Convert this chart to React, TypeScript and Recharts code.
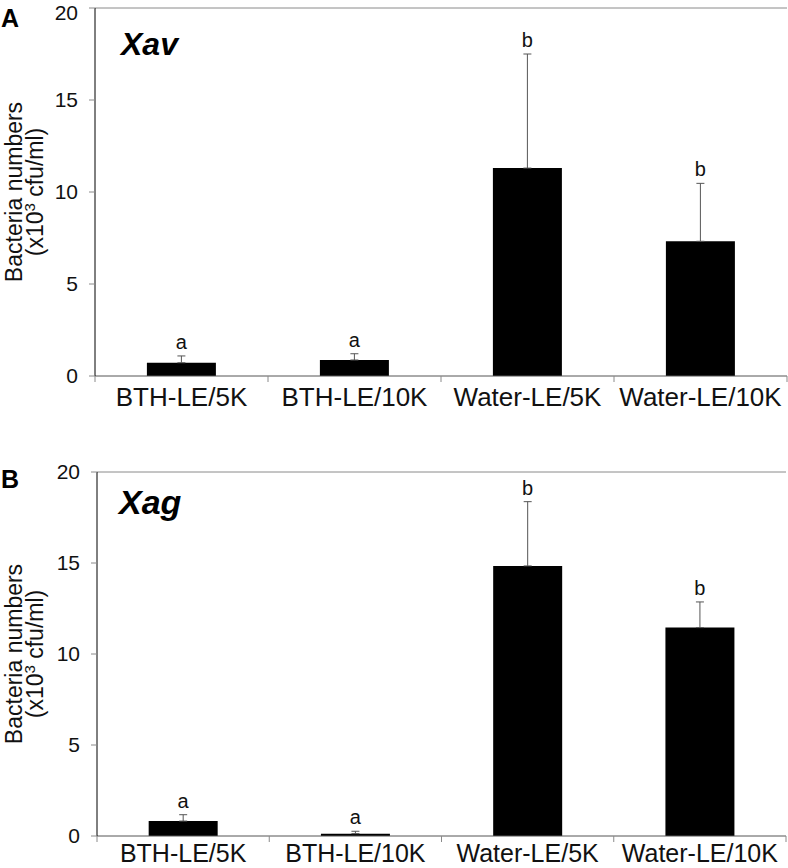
import { Bar, BarChart, ErrorBar, LabelList, ReferenceLine, XAxis, YAxis } from "recharts";

const categories = ["BTH-LE/5K", "BTH-LE/10K", "Water-LE/5K", "Water-LE/10K"];

// panel A, Xav
const xavMeans = [0.72, 0.87, 11.3, 7.32];
const xavErrors = [0.37, 0.34, 6.2, 3.15];
const xavLetters = ["a", "a", "b", "b"];

// panel B, Xag
const xagMeans = [0.82, 0.13, 14.84, 11.45];
const xagErrors = [0.35, 0.13, 3.53, 1.41];
const xagLetters = ["a", "a", "b", "b"];

const yTicks = [0, 5, 10, 15, 20];

const FONT = '"Liberation Sans", Arial, Helvetica, sans-serif';

function buildRows(means: number[], errors: number[], letters: string[]) {
  return categories.map((name, i) => ({
    name,
    mean: means[i],
    err: errors[i],
    errRange: [0, errors[i]],
    letter: letters[i]
  }));
}

function YLabel({ viewBox }: any) {
  const cy = viewBox.y + viewBox.height / 2;
  return (
    <g fontSize={23} fill="#111">
      <text x={22} y={cy} transform={`rotate(-90 22 ${cy})`} textAnchor="middle">
        Bacteria numbers
      </text>
      <text x={43} y={cy} transform={`rotate(-90 43 ${cy})`} textAnchor="middle">
        (x10<tspan dy={-8} fontSize={15}>3</tspan>
        <tspan dy={8}> cfu/ml)</tspan>
      </text>
    </g>
  );
}

// category label plus the small tick marks at the category boundaries
function makeCategoryTick(fontSize: number, gap: number) {
  return function CategoryTick({ x, y, payload, index }: any) {
    const half = payload.offset ?? 0;
    const last = index === categories.length - 1;
    return (
      <g>
        <line x1={x - half} x2={x - half} y1={y} y2={y + 6} stroke="#8a8a8a" />
        {last && <line x1={x + half} x2={x + half} y1={y} y2={y + 6} stroke="#8a8a8a" />}
        <text x={x} y={y + gap} dy="0.72em" textAnchor="middle" fontSize={fontSize} fill="#111">
          {payload.value}
        </text>
      </g>
    );
  };
}

const TickA = makeCategoryTick(26, 11);
const TickB = makeCategoryTick(25, 8);

function Panel({
  rows,
  height,
  margin,
  axisWidth,
  Tick
}: {
  rows: ReturnType<typeof buildRows>;
  height: number;
  margin: { top: number; right: number; bottom: number; left: number };
  axisWidth: number;
  Tick: (p: any) => any;
}) {
  return (
    <BarChart width={788} height={height} data={rows} margin={margin} barCategoryGap="30%">
      <XAxis
        dataKey="name"
        height={30}
        interval={0}
        tickLine={false}
        tickSize={0}
        tickMargin={0}
        axisLine={{ stroke: "#555" }}
        tick={<Tick />}
      />
      <YAxis
        domain={[0, 20]}
        ticks={yTicks}
        width={axisWidth}
        tickSize={6}
        tickMargin={11}
        axisLine={{ stroke: "#000" }}
        tickLine={{ stroke: "#8a8a8a" }}
        tick={{ fontSize: 21, fill: "#111" }}
        label={(props: any) => <YLabel {...props} />}
      />
      <YAxis
        yAxisId="frame"
        orientation="right"
        domain={[0, 20]}
        width={0}
        tick={false}
        tickLine={false}
        axisLine={{ stroke: "#8a8a8a" }}
      />
      <ReferenceLine y={20} stroke="#8a8a8a" ifOverflow="visible" />
      <Bar dataKey="mean" stackId="s" fill="#000" isAnimationActive={false}>
        <ErrorBar dataKey="errRange" width={4} stroke="#555" strokeWidth={1} isAnimationActive={false} />
      </Bar>
      <Bar dataKey="err" stackId="s" fill="transparent" isAnimationActive={false}>
        <LabelList dataKey="letter" position="top" offset={7} fontSize={20} fill="#111" />
      </Bar>
    </BarChart>
  );
}

export default function App() {
  const xav = buildRows(xavMeans, xavErrors, xavLetters);
  const xag = buildRows(xagMeans, xagErrors, xagLetters);
  return (
    <div
      style={{
        position: "absolute",
        left: 0,
        top: 0,
        width: 788,
        height: 868,
        background: "#fff",
        fontFamily: FONT,
        overflow: "hidden"
      }}
    >
      <div style={{ position: "absolute", left: 0, top: 0 }}>
        <Panel rows={xav} height={420} margin={{ top: 8, right: 1, bottom: 14, left: 0 }} axisWidth={95} Tick={TickA} />
      </div>
      <div style={{ position: "absolute", left: 0, top: 420 }}>
        <Panel rows={xag} height={448} margin={{ top: 52, right: 2, bottom: 2, left: 0 }} axisWidth={97} Tick={TickB} />
      </div>
      <svg
        width={788}
        height={868}
        style={{ position: "absolute", left: 0, top: 0, pointerEvents: "none" }}
      >
        <text x={1} y={27} fontSize={25} fontWeight="bold" fill="#000">A</text>
        <text x={121} y={55} fontSize={32} fontWeight="bold" fontStyle="italic" fill="#000">Xav</text>
        <text x={1} y={488} fontSize={25} fontWeight="bold" fill="#000">B</text>
        <text x={119} y={514} fontSize={34} fontWeight="bold" fontStyle="italic" fill="#000">Xag</text>
      </svg>
    </div>
  );
}
